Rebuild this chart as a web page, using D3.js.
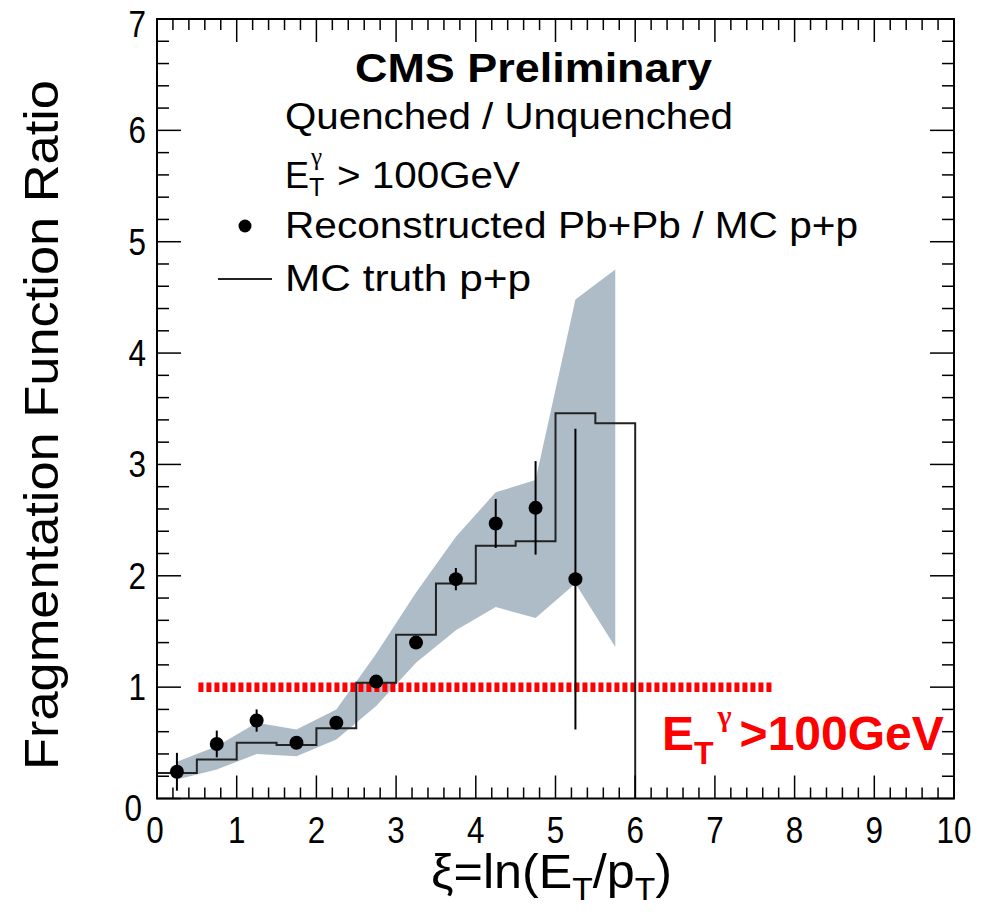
<!DOCTYPE html>
<html>
<head>
<meta charset="utf-8">
<script src="https://cdn.jsdelivr.net/npm/d3@7"></script>
<style>
  body { margin: 0; background: #fff; }
  text { font-family: "Liberation Sans", Arial, sans-serif; }
</style>
</head>
<body>
<div id="chart"></div>
<script>
// MC truth p+p histogram (bin edges and contents)
var mcEdges = [0, 0.5, 1, 1.5, 2, 2.5, 3, 3.5, 4, 4.5, 5, 5.5, 6];
var mcTruth = [0.23, 0.35, 0.50, 0.48, 0.63, 1.04, 1.47, 1.93, 2.27, 2.31, 3.46, 3.37];

// reconstructed Pb+Pb / MC p+p points
var dataXi  = [0.25, 0.75, 1.25, 1.75, 2.25, 2.75, 3.25, 3.75, 4.25, 4.75, 5.25];
var dataVal = [0.24, 0.49, 0.70, 0.50, 0.68, 1.05, 1.40, 1.97, 2.47, 2.61, 1.97];
var dataErr = [0.17, 0.12, 0.10, 0.03, 0.03, 0.03, 0.03, 0.10, 0.22, 0.42, 1.35];

// systematic band
var bandXi   = [0.25, 0.75, 1.25, 1.75, 2.25, 2.75, 3.25, 3.75, 4.25, 4.75, 5.25, 5.75];
var bandHigh = [0.33, 0.47, 0.68, 0.62, 0.80, 1.30, 1.85, 2.35, 2.75, 2.86, 4.48, 4.75];
var bandLow  = [0.17, 0.26, 0.40, 0.38, 0.53, 0.83, 1.22, 1.51, 1.72, 1.62, 1.93, 1.36];

// red reference line
var refLine = [0.52, 7.73];
var refLevel = 1.0;

var xTicks = [0, 1, 2, 3, 4, 5, 6, 7, 8, 9, 10];
var yTicks = [0, 1, 2, 3, 4, 5, 6, 7];

var width = 981, height = 916;
var m = {l: 157, r: 954, t: 19, b: 798.5};

var x = d3.scaleLinear().domain([0, 10]).range([m.l, m.r]);
var y = d3.scaleLinear().domain([0, 7]).range([m.b, m.t]);

var svg = d3.select("#chart").append("svg")
  .attr("width", width)
  .attr("height", height);

// band
var bandData = bandXi.map(function(d, i) { return {x: d, lo: bandLow[i], hi: bandHigh[i]}; });
svg.append("path")
  .datum(bandData)
  .attr("fill", "#aebcc8")
  .attr("d", d3.area()
    .x(function(d) { return x(d.x); })
    .y0(function(d) { return y(d.lo); })
    .y1(function(d) { return y(d.hi); }));

// red dashed line at 1
svg.append("line")
  .attr("x1", x(refLine[0])).attr("x2", x(refLine[1]))
  .attr("y1", y(refLevel)).attr("y2", y(refLevel))
  .attr("stroke", "#ff0000")
  .attr("stroke-width", 9.5)
  .attr("stroke-dasharray", "5,3");

// histogram
var steps = [[mcEdges[0], 0]];
mcTruth.forEach(function(v, i) {
  steps.push([mcEdges[i], v]);
  steps.push([mcEdges[i + 1], v]);
});
steps.push([mcEdges[mcEdges.length - 1], 0]);
svg.append("path")
  .datum(steps)
  .attr("fill", "none")
  .attr("stroke", "#222")
  .attr("stroke-width", 2)
  .attr("d", d3.line()
    .x(function(d) { return x(d[0]); })
    .y(function(d) { return y(d[1]); }));

// error bars and points
var pts = dataXi.map(function(d, i) { return {x: d, v: dataVal[i], e: dataErr[i]}; });
svg.selectAll(".err").data(pts).enter().append("line")
  .attr("x1", function(d) { return x(d.x); })
  .attr("x2", function(d) { return x(d.x); })
  .attr("y1", function(d) { return y(d.v - d.e); })
  .attr("y2", function(d) { return y(d.v + d.e); })
  .attr("stroke", "#000")
  .attr("stroke-width", 2);
svg.selectAll(".pt").data(pts).enter().append("circle")
  .attr("cx", function(d) { return x(d.x); })
  .attr("cy", function(d) { return y(d.v); })
  .attr("r", 7)
  .attr("fill", "#000");

// frame
svg.append("rect")
  .attr("x", m.l).attr("y", m.t)
  .attr("width", m.r - m.l).attr("height", m.b - m.t)
  .attr("fill", "none").attr("stroke", "#000").attr("stroke-width", 2);

// ticks
var xMinor = d3.range(0, 10.001, 0.2);
var yMinor = d3.range(0, 7.001, 0.2);
xMinor.forEach(function(t) {
  var major = Math.abs(t - Math.round(t)) < 1e-6;
  var len = major ? 23 : 11;
  svg.append("line").attr("x1", x(t)).attr("x2", x(t))
    .attr("y1", m.b).attr("y2", m.b - len)
    .attr("stroke", "#000").attr("stroke-width", 1.5);
  svg.append("line").attr("x1", x(t)).attr("x2", x(t))
    .attr("y1", m.t).attr("y2", m.t + len)
    .attr("stroke", "#000").attr("stroke-width", 1.5);
});
yMinor.forEach(function(t) {
  var major = Math.abs(t - Math.round(t)) < 1e-6;
  var len = major ? 24 : 12;
  svg.append("line").attr("x1", m.l).attr("x2", m.l + len)
    .attr("y1", y(t)).attr("y2", y(t))
    .attr("stroke", "#000").attr("stroke-width", 1.5);
  svg.append("line").attr("x1", m.r).attr("x2", m.r - len)
    .attr("y1", y(t)).attr("y2", y(t))
    .attr("stroke", "#000").attr("stroke-width", 1.5);
});

// tick labels (narrow digits like the original)
svg.selectAll(".xl").data(xTicks).enter().append("text")
  .attr("transform", function(d) { return "translate(" + (d === 0 ? x(d) - 2 : x(d)) + ",843) scale(0.85,1)"; })
  .attr("text-anchor", "middle")
  .attr("font-size", 37)
  .text(function(d) { return d; });
svg.selectAll(".yl").data(yTicks).enter().append("text")
  .attr("transform", function(d) {
    var dy = d === 0 ? 22 : (d === 7 ? 18 : 13);
    var xx = d === 0 ? 142 : 146;
    return "translate(" + xx + "," + (y(d) + dy) + ") scale(0.85,1)";
  })
  .attr("text-anchor", "end")
  .attr("font-size", 37)
  .text(function(d) { return d; });

// axis titles
svg.append("text")
  .attr("transform", "translate(58,425) rotate(-90)")
  .attr("text-anchor", "middle")
  .attr("font-size", 48)
  .attr("textLength", 690)
  .attr("lengthAdjust", "spacingAndGlyphs")
  .text("Fragmentation Function Ratio");

var xt = svg.append("text")
  .attr("x", 431).attr("y", 888)
  .attr("font-size", 48)
  .attr("textLength", 241)
  .attr("lengthAdjust", "spacingAndGlyphs");
xt.append("tspan").text("\u03be=ln(E");
xt.append("tspan").attr("font-size", 32).attr("dy", 12).text("T");
xt.append("tspan").attr("dy", -12).text("/p");
xt.append("tspan").attr("font-size", 32).attr("dy", 12).text("T");
xt.append("tspan").attr("dy", -12).text(")");

// header and legend
svg.append("text")
  .attr("x", 355).attr("y", 82)
  .attr("font-size", 40)
  .attr("font-weight", "bold")
  .attr("textLength", 357)
  .attr("lengthAdjust", "spacingAndGlyphs")
  .text("CMS Preliminary");

svg.append("text")
  .attr("x", 285).attr("y", 129)
  .attr("font-size", 36)
  .attr("textLength", 448)
  .attr("lengthAdjust", "spacingAndGlyphs")
  .text("Quenched / Unquenched");

var et = svg.append("text").attr("x", 285).attr("y", 188).attr("font-size", 36);
et.append("tspan").text("E");
et.append("tspan").attr("font-size", 25).attr("dy", 8).text("T");
et.append("tspan").attr("x", 311).attr("dy", -31).attr("font-size", 25)
  .attr("font-family", "Liberation Serif").text("\u03b3");
svg.append("text").attr("x", 337).attr("y", 188).attr("font-size", 36)
  .attr("textLength", 183)
  .attr("lengthAdjust", "spacingAndGlyphs")
  .text("> 100GeV");

svg.append("circle").attr("cx", 245).attr("cy", 226).attr("r", 6.5).attr("fill", "#000");
svg.append("text")
  .attr("x", 285).attr("y", 238)
  .attr("font-size", 36)
  .attr("textLength", 573)
  .attr("lengthAdjust", "spacingAndGlyphs")
  .text("Reconstructed Pb+Pb / MC p+p");

svg.append("line")
  .attr("x1", 218).attr("x2", 272).attr("y1", 279).attr("y2", 279)
  .attr("stroke", "#222").attr("stroke-width", 2);
svg.append("text")
  .attr("x", 285).attr("y", 291)
  .attr("font-size", 36)
  .attr("textLength", 246)
  .attr("lengthAdjust", "spacingAndGlyphs")
  .text("MC truth p+p");

// red label
var rl = svg.append("text")
  .attr("x", 662).attr("y", 750)
  .attr("font-size", 48)
  .attr("font-weight", "bold")
  .attr("fill", "#ff0000");
rl.append("tspan").text("E");
rl.append("tspan").attr("font-size", 32).attr("dy", 14).text("T");
rl.append("tspan").attr("dy", -38).attr("dx", 4).attr("font-size", 30)
  .attr("font-family", "Liberation Serif").text("\u03b3");
rl.append("tspan").attr("dy", 24).attr("dx", 8).text(">100GeV");
</script>
</body>
</html>
